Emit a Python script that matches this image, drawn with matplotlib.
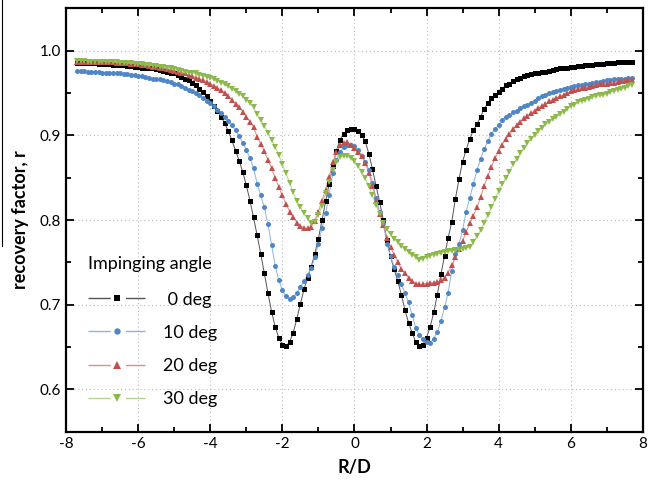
import numpy as np
import matplotlib
matplotlib.use("Agg")
import matplotlib.pyplot as plt
from matplotlib.lines import Line2D
from matplotlib.ticker import MultipleLocator

plt.rcParams['font.family'] = ['Lato', 'DejaVu Sans']

# R/D positions (-7.7 .. 7.7, step 0.1)
r_d = np.round(np.arange(-7.7, 7.7001, 0.1), 1)

deg0 = [
    0.985, 0.985, 0.985, 0.985, 0.985, 0.985, 0.984, 0.984, 0.984, 0.984,
    0.983, 0.983, 0.983, 0.983, 0.982, 0.982, 0.981, 0.981, 0.980, 0.980,
    0.979, 0.979, 0.978, 0.977, 0.976, 0.975, 0.974, 0.973, 0.971, 0.969,
    0.967, 0.965, 0.962, 0.959, 0.955, 0.951, 0.946, 0.941, 0.935, 0.929,
    0.922, 0.914, 0.905, 0.894, 0.882, 0.870, 0.857, 0.841, 0.823, 0.803,
    0.782, 0.760, 0.737, 0.714, 0.692, 0.674, 0.661, 0.653, 0.651, 0.656,
    0.667, 0.683, 0.701, 0.718, 0.732, 0.745, 0.760, 0.778, 0.800, 0.822,
    0.843, 0.864, 0.882, 0.895, 0.902, 0.906, 0.908, 0.908, 0.905, 0.900,
    0.893, 0.878, 0.860, 0.840, 0.821, 0.800, 0.776, 0.757, 0.742, 0.728,
    0.712, 0.694, 0.679, 0.667, 0.656, 0.651, 0.653, 0.661, 0.674, 0.691,
    0.712, 0.736, 0.758, 0.779, 0.798, 0.825, 0.848, 0.869, 0.883, 0.896,
    0.906, 0.913, 0.922, 0.931, 0.938, 0.944, 0.948, 0.951, 0.955, 0.959,
    0.961, 0.964, 0.966, 0.968, 0.970, 0.971, 0.972, 0.973, 0.974, 0.975,
    0.975, 0.976, 0.977, 0.978, 0.979, 0.980, 0.980, 0.981, 0.981, 0.982,
    0.982, 0.983, 0.983, 0.983, 0.984, 0.984, 0.984, 0.985, 0.985, 0.985,
    0.986, 0.986, 0.986, 0.986, 0.986,
]

deg10 = [
    0.976, 0.976, 0.976, 0.975, 0.975, 0.975, 0.975, 0.974, 0.974, 0.974,
    0.973, 0.973, 0.973, 0.972, 0.972, 0.971, 0.971, 0.970, 0.970, 0.969,
    0.968, 0.967, 0.967, 0.966, 0.965, 0.964, 0.963, 0.961, 0.960, 0.958,
    0.956, 0.954, 0.952, 0.950, 0.947, 0.944, 0.941, 0.938, 0.934, 0.930,
    0.926, 0.922, 0.917, 0.912, 0.906, 0.899, 0.891, 0.883, 0.873, 0.861,
    0.843, 0.829, 0.815, 0.795, 0.771, 0.746, 0.729, 0.717, 0.710, 0.707,
    0.709, 0.714, 0.721, 0.728, 0.735, 0.743, 0.756, 0.772, 0.790, 0.808,
    0.830, 0.855, 0.871, 0.880, 0.886, 0.889, 0.889, 0.887, 0.883, 0.876,
    0.869, 0.859, 0.844, 0.826, 0.810, 0.796, 0.772, 0.757, 0.745, 0.735,
    0.724, 0.714, 0.703, 0.688, 0.673, 0.664, 0.659, 0.656, 0.655, 0.660,
    0.668, 0.681, 0.697, 0.714, 0.740, 0.760, 0.772, 0.788, 0.810, 0.826,
    0.843, 0.859, 0.872, 0.884, 0.893, 0.902, 0.907, 0.912, 0.918, 0.922,
    0.924, 0.927, 0.929, 0.932, 0.934, 0.936, 0.938, 0.941, 0.944, 0.946,
    0.948, 0.950, 0.951, 0.952, 0.954, 0.955, 0.956, 0.957, 0.958, 0.959,
    0.959, 0.960, 0.961, 0.962, 0.963, 0.963, 0.964, 0.965, 0.965, 0.966,
    0.966, 0.967, 0.967, 0.968, 0.968,
]

deg20 = [
    0.987, 0.987, 0.987, 0.987, 0.987, 0.986, 0.986, 0.986, 0.986, 0.986,
    0.986, 0.985, 0.985, 0.985, 0.985, 0.984, 0.984, 0.984, 0.983, 0.983,
    0.982, 0.981, 0.981, 0.980, 0.979, 0.978, 0.977, 0.976, 0.975, 0.974,
    0.973, 0.971, 0.970, 0.968, 0.967, 0.965, 0.963, 0.961, 0.958, 0.956,
    0.953, 0.950, 0.946, 0.942, 0.937, 0.933, 0.928, 0.922, 0.916, 0.910,
    0.898, 0.890, 0.881, 0.871, 0.861, 0.850, 0.839, 0.829, 0.819, 0.810,
    0.803, 0.797, 0.793, 0.791, 0.790, 0.792, 0.799, 0.810, 0.823, 0.836,
    0.851, 0.868, 0.880, 0.888, 0.891, 0.892, 0.889, 0.885, 0.880, 0.875,
    0.867, 0.856, 0.840, 0.822, 0.807, 0.794, 0.779, 0.768, 0.759, 0.751,
    0.742, 0.737, 0.732, 0.728, 0.725, 0.724, 0.724, 0.725, 0.726, 0.726,
    0.727, 0.729, 0.732, 0.738, 0.747, 0.756, 0.766, 0.775, 0.786, 0.796,
    0.805, 0.815, 0.827, 0.840, 0.852, 0.863, 0.873, 0.881, 0.889, 0.896,
    0.901, 0.907, 0.912, 0.916, 0.920, 0.923, 0.926, 0.929, 0.932, 0.935,
    0.937, 0.940, 0.942, 0.944, 0.946, 0.948, 0.950, 0.952, 0.953, 0.955,
    0.956, 0.956, 0.957, 0.958, 0.959, 0.960, 0.960, 0.961, 0.962, 0.962,
    0.963, 0.964, 0.964, 0.965, 0.965,
]

deg30 = [
    0.988, 0.988, 0.988, 0.987, 0.987, 0.987, 0.987, 0.987, 0.986, 0.986,
    0.986, 0.986, 0.985, 0.985, 0.985, 0.985, 0.984, 0.984, 0.984, 0.983,
    0.983, 0.982, 0.982, 0.981, 0.981, 0.980, 0.979, 0.978, 0.977, 0.976,
    0.975, 0.974, 0.974, 0.973, 0.971, 0.970, 0.969, 0.968, 0.966, 0.964,
    0.962, 0.960, 0.958, 0.955, 0.952, 0.949, 0.946, 0.942, 0.938, 0.933,
    0.925, 0.918, 0.911, 0.903, 0.895, 0.886, 0.877, 0.866, 0.855, 0.844,
    0.833, 0.823, 0.815, 0.808, 0.802, 0.797, 0.798, 0.806, 0.817, 0.832,
    0.845, 0.859, 0.868, 0.874, 0.876, 0.875, 0.873, 0.870, 0.864, 0.857,
    0.849, 0.840, 0.829, 0.818, 0.807, 0.796, 0.789, 0.783, 0.778, 0.774,
    0.769, 0.766, 0.762, 0.759, 0.756, 0.753, 0.754, 0.756, 0.758, 0.759,
    0.760, 0.761, 0.762, 0.763, 0.764, 0.765, 0.765, 0.766, 0.767, 0.768,
    0.774, 0.781, 0.788, 0.797, 0.806, 0.815, 0.825, 0.834, 0.842, 0.850,
    0.857, 0.866, 0.872, 0.879, 0.885, 0.891, 0.896, 0.900, 0.905, 0.909,
    0.913, 0.916, 0.919, 0.922, 0.925, 0.928, 0.931, 0.934, 0.936, 0.939,
    0.940, 0.942, 0.943, 0.945, 0.946, 0.947, 0.948, 0.949, 0.951, 0.952,
    0.954, 0.955, 0.956, 0.958, 0.959,
]

labels = [" 0 deg", "10 deg", "20 deg", "30 deg"]
series = [deg0, deg10, deg20, deg30]
marker_colors = ["#000000", "#4F86C6", "#C0504D", "#8DB84A"]
line_colors = ["#555555", "#8DB3E2", "#E08C8A", "#B5D38A"]
markers = ["s", "o", "^", "v"]
msizes = [3.6, 3.6, 4.4, 4.4]

fig = plt.figure(figsize=(6.48, 4.83), dpi=100)
ax = fig.add_axes([0.102, 0.106, 0.890, 0.877])

for y, lab, mc, lc, mk, ms in zip(series, labels, marker_colors, line_colors, markers, msizes):
    ax.plot(r_d, y, color=lc, lw=0.7, zorder=2)
    ax.plot(r_d, y, linestyle='none', marker=mk, ms=ms, mfc=mc, mec=mc, mew=0, zorder=3)

ax.set_xlim(-8, 8)
ax.set_ylim(0.55, 1.05)
ax.xaxis.set_minor_locator(MultipleLocator(1))
ax.yaxis.set_minor_locator(MultipleLocator(0.05))
ax.set_yticks([0.6, 0.7, 0.8, 0.9, 1.0])
ax.set_yticklabels(["0.6", "0.7", "0.8", "0.9", "1.0"])
ax.set_xticks(range(-8, 9, 2))
ax.set_xticklabels([str(v) for v in range(-8, 9, 2)])

ax.tick_params(which='both', direction='in', top=True, right=True, width=1.3, labelsize=11)
ax.tick_params(which='major', length=6)
ax.tick_params(which='minor', length=3.5)
for sp in ax.spines.values():
    sp.set_linewidth(1.6)
ax.grid(True, which='major', linestyle=(0, (1, 2.5)), color='#bbbbbb', lw=0.8)

ax.set_xlabel("R/D", fontsize=13, fontweight='bold', labelpad=6)
ax.set_ylabel("recovery factor, r", fontsize=13, fontweight='bold', labelpad=8)

handles = []
for lab, mc, lc, mk, ms in zip(labels, marker_colors, line_colors, markers, msizes):
    handles.append(Line2D([0], [0], color=lc, lw=1.0, linestyle=(0, (16, 11)),
                          marker=mk, ms=ms + 1, mfc=mc, mec=mc, mew=0))
leg = ax.legend(handles, labels, title="Impinging angle", loc='lower left',
                bbox_to_anchor=(0.01, 0.02), frameon=False, fontsize=13,
                title_fontsize=13, handlelength=3.15, handletextpad=1.0,
                labelspacing=0.95, alignment='left')
leg._legend_box.sep = 14

fig.add_artist(Line2D([0.0025, 0.0025], [1.0, 0.49], transform=fig.transFigure, color='black', lw=0.8))

fig.savefig("out.png", dpi=100)
